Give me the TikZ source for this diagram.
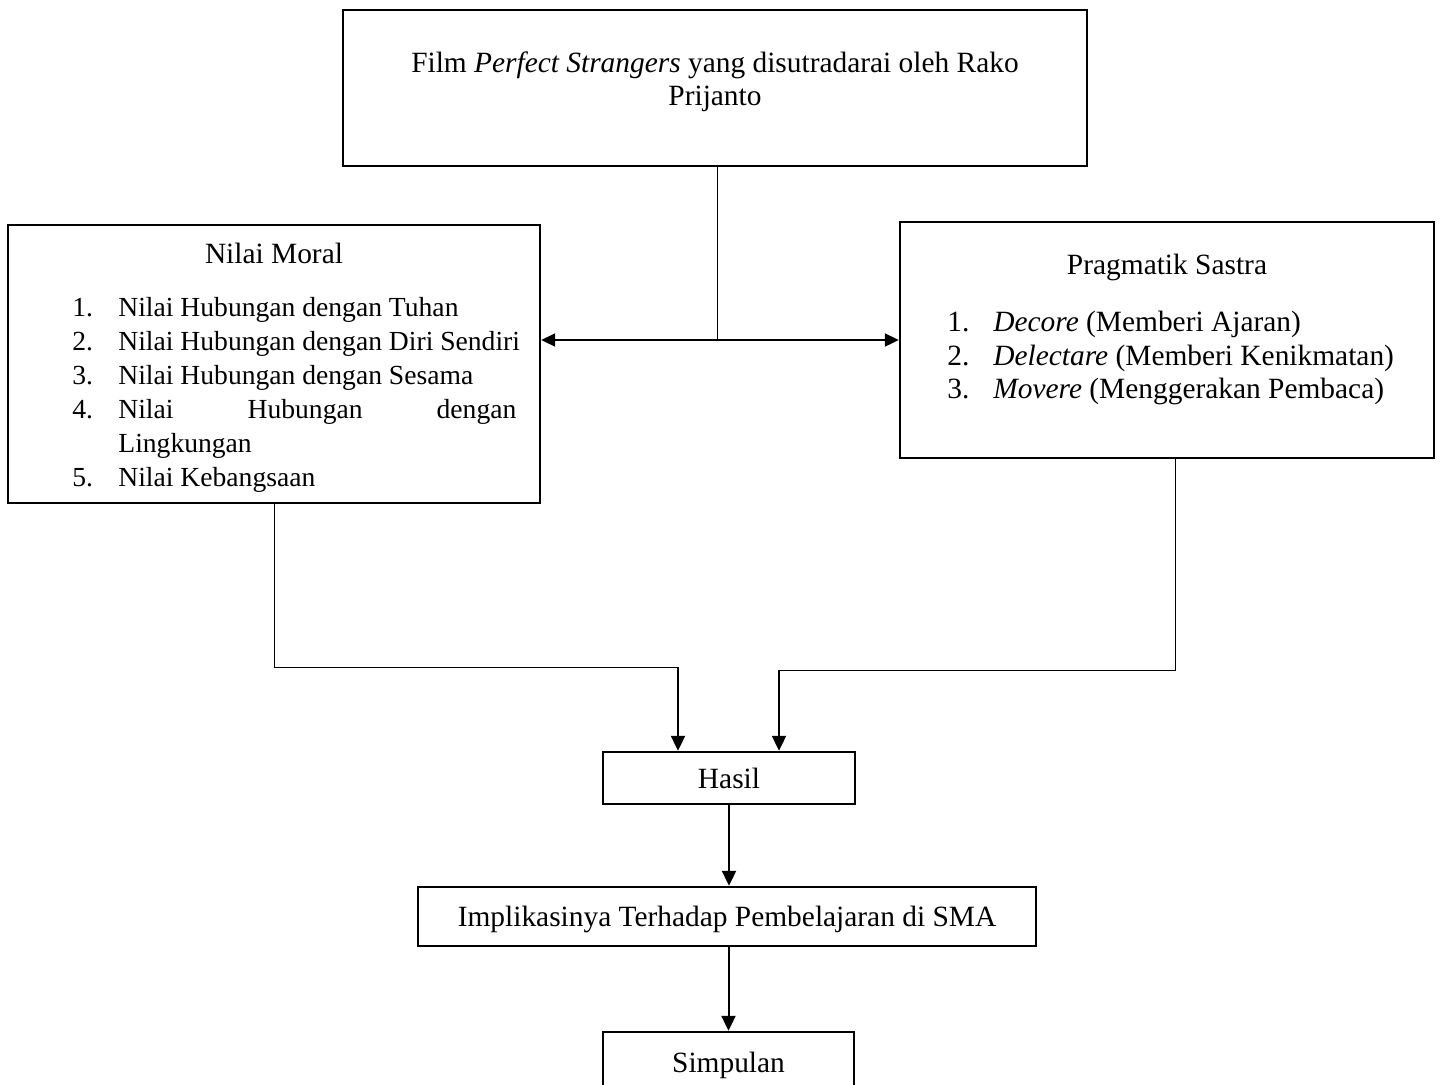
\documentclass[tikz,border=0pt]{standalone}
\usepackage{fontspec}
\setmainfont{Liberation Serif}
\usetikzlibrary{arrows.meta}
\newcommand\fsz{\fontsize{14.7pt}{16.7pt}\selectfont}
\newcommand\fszlist{\fontsize{13.8pt}{17pt}\selectfont}
\begin{document}
\begin{tikzpicture}[x=0.5pt,y=-0.5pt,
  box/.style={draw, line width=1.2pt, inner sep=0pt},
  txt/.style={inner sep=0pt, font=\fsz},
  listtxt/.style={inner sep=0pt, font=\fszlist},
  thinline/.style={line width=0.5pt},
  arr/.style={line width=1pt, -{Triangle[length=7.5pt,width=7pt]}},
  dblarr/.style={line width=1pt, {Triangle[length=7pt,width=6.5pt]}-{Triangle[length=7pt,width=6.5pt]}},
]
\useasboundingbox (0,0) rectangle (1440,1084);

% boxes
\node[box, minimum width=372pt, minimum height=78pt] (film) at (715,88) {};
\node[box, minimum width=266pt, minimum height=139pt] (moral) at (274,364) {};
\node[box, minimum width=267pt, minimum height=118pt] (prag) at (1167,340) {};
\node[box, minimum width=126pt, minimum height=26pt] (hasil) at (729,778) {};
\node[box, minimum width=309pt, minimum height=29.5pt] (impl) at (727,916.5) {};
\node[box, minimum width=125.5pt, minimum height=34pt] (simp) at (728.5,1066) {};

% texts
\node[txt, align=center] (filmtext) at (715,82)
  {Film \textit{Perfect Strangers} yang disutradarai oleh Rako\\Prijanto};
\node[txt] (moraltitle) at (274,253) {Nilai Moral};
\node[listtxt, align=left, anchor=west] (morallist) at (72,394.5) {%
\makebox[23pt][l]{1.}Nilai Hubungan dengan Tuhan\\
\makebox[23pt][l]{2.}Nilai Hubungan dengan Diri Sendiri\\
\makebox[23pt][l]{3.}Nilai Hubungan dengan Sesama\\
\makebox[23pt][l]{4.}\makebox[199pt][l]{Nilai\hfill Hubungan\hfill dengan}\\
\hspace*{23pt}Lingkungan\\
\makebox[23pt][l]{5.}Nilai Kebangsaan};
\node[txt] (pragtitle) at (1167,267) {Pragmatik Sastra};
\node[txt, align=left, anchor=west] (praglist) at (947,358) {%
\makebox[23pt][l]{1.}\textit{Decore} (Memberi Ajaran)\\
\makebox[23pt][l]{2.}\textit{Delectare} (Memberi Kenikmatan)\\
\makebox[23pt][l]{3.}\textit{Movere} (Menggerakan Pembaca)};
\node[txt] (hasiltext) at (729,778) {Hasil};
\node[txt] (impltext) at (727,919) {Implikasinya Terhadap Pembelajaran di SMA};
\node[txt] (simptext) at (728.5,1065) {Simpulan};

% connectors
\coordinate (j) at (717,340);
\draw[thinline] ([xshift=1pt]film.south) -- (j);
\draw[dblarr] (moral.east |- j) -- (prag.west |- j);

\coordinate (lk) at (678,667);
\draw[thinline] (moral.south) |- (lk);
\draw[arr] (lk) -- (lk |- hasil.north);

\coordinate (rk) at (779,670);
\draw[thinline] ([xshift=4pt]prag.south) |- (rk);
\draw[arr] (rk) -- (rk |- hasil.north);

\draw[arr] (hasil.south) -- (hasil.south |- impl.north);
\draw[arr] (simp.north |- impl.south) -- (simp.north);
\end{tikzpicture}
\end{document}
